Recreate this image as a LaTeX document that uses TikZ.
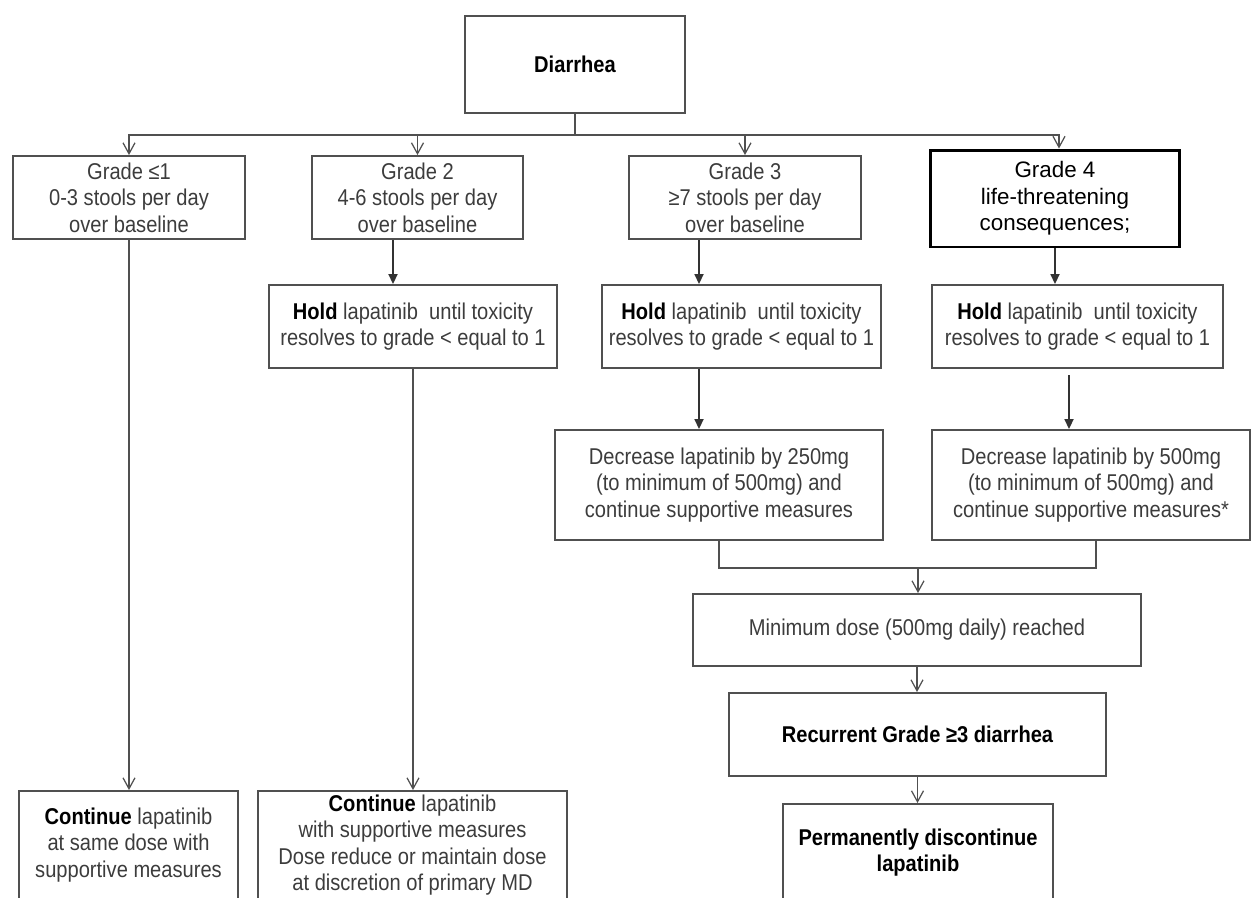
\documentclass[tikz,border=0pt]{standalone}
\usepackage{fontspec}
\setmainfont{Liberation Sans}[FakeStretch=0.88]
\newfontfamily\plainfont{Liberation Sans}
\usepackage{xcolor}
\usepackage{tikz}
\usetikzlibrary{positioning, arrows.meta}
\definecolor{boxgray}{HTML}{505050}
\definecolor{textgray}{HTML}{3C3C3C}
\newcommand{\kw}[1]{\textcolor{black}{\textbf{#1}}}

\begin{document}
\begin{tikzpicture}[x=0.02cm, y=-0.02cm,
    flowbox/.style={draw=boxgray, line width=1.1pt, text=textgray, align=center,
      inner sep=0pt, font=\fontsize{13pt}{15pt}\selectfont},
    boldbox/.style={flowbox, text=black, font=\fontsize{13pt}{15pt}\selectfont\bfseries},
    openarr/.style={draw=boxgray, line width=1pt,
      -{Straight Barb[length=2.2mm, width=2.4mm, line width=0.7pt]}},
    fillarr/.style={draw=black!80, line width=1pt, -{Triangle[length=2mm, width=1.8mm]}},
    joinline/.style={draw=boxgray, line width=1pt}]
  \useasboundingbox (0,0) rectangle (1251,897);
  \clip (0,0) rectangle (1251,897);

  % top
  \node[boldbox, minimum width=4.4cm, minimum height=1.94cm] (diar) at (575,64.5) {Diarrhea};

  % grades
  \node[flowbox, minimum width=4.64cm, minimum height=1.66cm] (g1) at (129,197.5)
    {Grade ≤1\\0-3 stools per day\\over baseline};
  \node[flowbox, minimum width=4.22cm, minimum height=1.66cm] (g2) at (417.5,197.5)
    {Grade 2\\4-6 stools per day\\over baseline};
  \node[flowbox, minimum width=4.64cm, minimum height=1.66cm] (g3) at (745,197.5)
    {Grade 3\\≥7 stools per day\\over baseline};
  \node[flowbox, draw=black, line width=1.7pt, text=black, minimum width=5cm, minimum height=1.94cm,
        font=\fontsize{12.75pt}{15pt}\selectfont\plainfont] (g4) at (1055,198.5)
    {Grade 4\\life-threatening\\consequences;};

  % hold
  \node[flowbox, minimum width=5.76cm, minimum height=1.66cm] (hold2) at (413,326.5)
    {\kw{Hold} lapatinib \ until toxicity\\resolves to grade < equal to 1};
  \node[flowbox, minimum width=5.58cm, minimum height=1.66cm] (hold3) at (741.5,326.5)
    {\kw{Hold} lapatinib \ until toxicity\\resolves to grade < equal to 1};
  \node[flowbox, minimum width=5.82cm, minimum height=1.66cm] (hold4) at (1077.5,326.5)
    {\kw{Hold} lapatinib \ until toxicity\\resolves to grade < equal to 1};

  % decrease
  \node[flowbox, minimum width=6.56cm, minimum height=2.2cm] (dec3) at (719,485)
    {Decrease lapatinib by 250mg\\(to minimum of 500mg) and\\continue supportive measures};
  \node[flowbox, minimum width=6.36cm, minimum height=2.2cm] (dec4) at (1091,485)
    {Decrease lapatinib by 500mg\\(to minimum of 500mg) and\\continue supportive measures*};

  \node[flowbox, minimum width=8.96cm, minimum height=1.44cm] (mind) at (917,630)
    {Minimum dose (500mg daily) reached};
  \node[boldbox, minimum width=7.54cm, minimum height=1.66cm] (rec) at (917.5,734.5)
    {Recurrent Grade ≥3 diarrhea};
  \node[boldbox, minimum width=5.4cm, minimum height=1.94cm] (perm) at (918,852.5)
    {Permanently discontinue\\lapatinib};

  % continue
  \node[flowbox, minimum width=4.38cm, minimum height=2.16cm] (cont1) at (128.5,845)
    {\kw{Continue} lapatinib\\at same dose with\\supportive measures};
  \node[flowbox, minimum width=6.18cm, minimum height=2.16cm] (cont2) at (412.5,845)
    {\kw{Continue} lapatinib\\with supportive measures\\Dose reduce or maintain dose\\at discretion of primary MD};

  % connectors
  \coordinate (split) at (575,135);
  \coordinate (c2) at (393,0);
  \coordinate (c3) at (699,0);
  \coordinate (c4) at (1069,375);
  \coordinate (c4b) at (1096,0);
  \coordinate (merge) at (918,568);

  \draw[joinline] (diar.south) -- (split);
  \foreach \g in {g1,g2,g3}
    \draw[openarr] (split) -| (\g.north);
  \draw[openarr] (split) -| ([xshift=0.08cm]g4.north);

  \draw[openarr] (g1.south) -- (g1.south |- cont1.north);
  \draw[fillarr] (c2 |- g2.south) -- (c2 |- hold2.north);
  \draw[openarr] (hold2.south) -- (hold2.south |- cont2.north);

  \draw[fillarr] (c3 |- g3.south) -- (c3 |- hold3.north);
  \draw[fillarr] (c3 |- hold3.south) -- (c3 |- dec3.north);
  \draw[fillarr] (g4.south) -- (g4.south |- hold4.north);
  \draw[fillarr] (c4) -- (c4 |- dec4.north);

  \draw[joinline] (dec3.south) |- (merge);
  \draw[joinline] (c4b |- dec4.south) |- (merge);
  \draw[openarr] (merge) -- (merge |- mind.north);
  \draw[openarr] (mind.south) -- (mind.south |- rec.north);
  \draw[openarr] (rec.south) -- (rec.south |- perm.north);
\end{tikzpicture}
\end{document}
